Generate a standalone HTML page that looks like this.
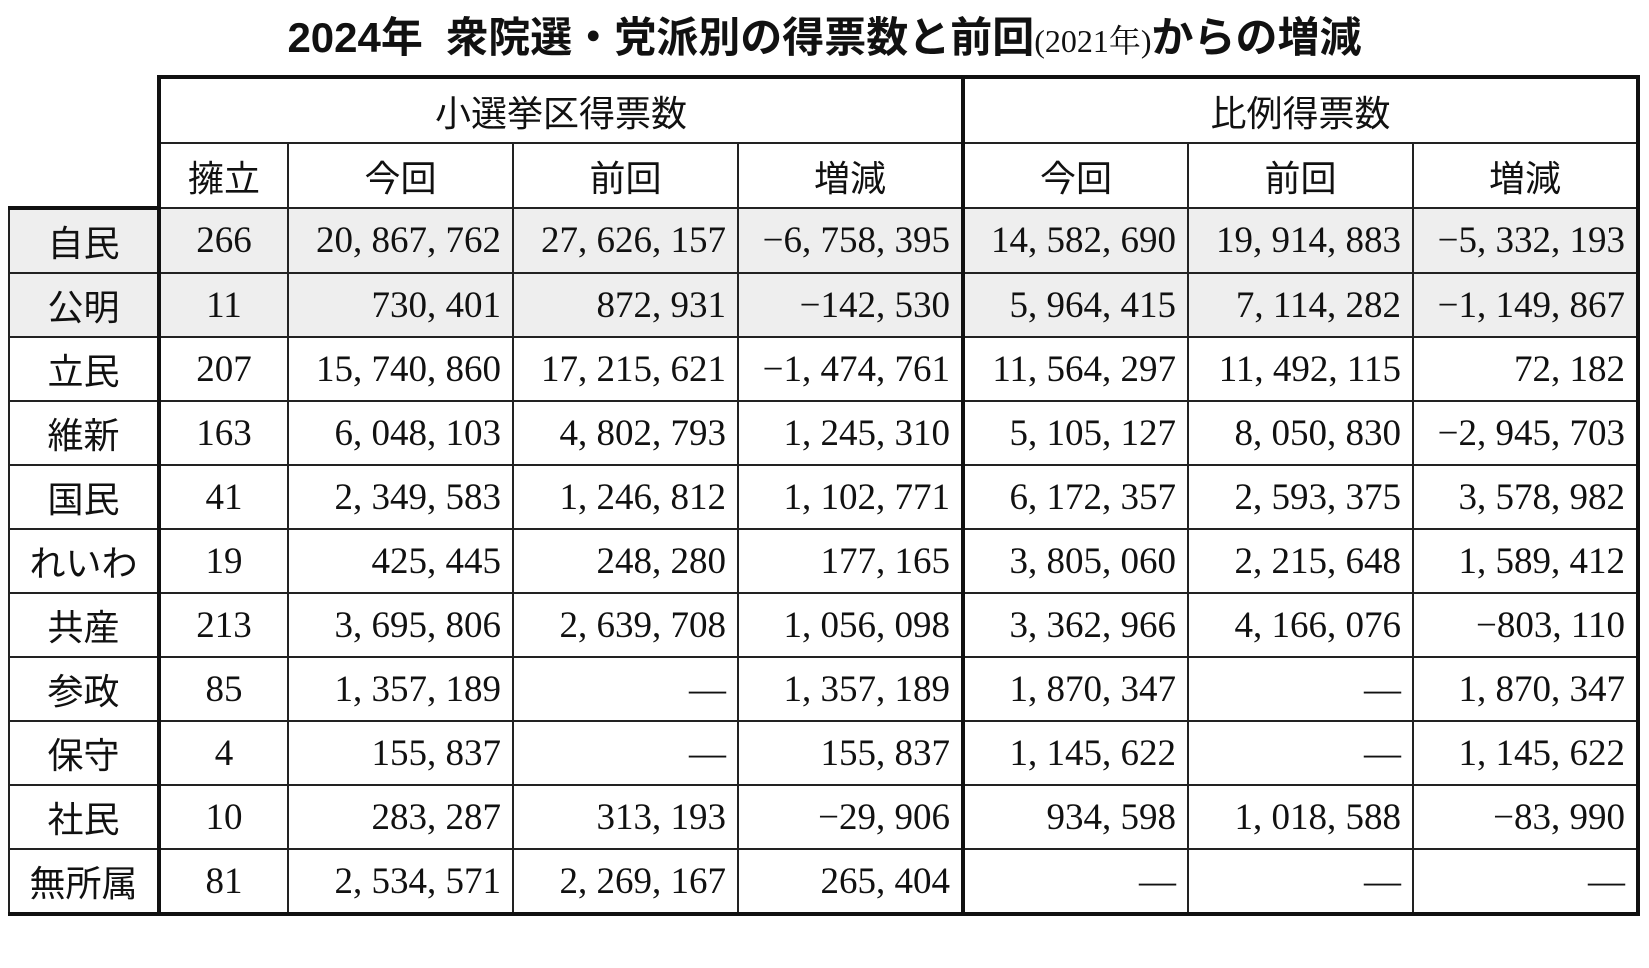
<!DOCTYPE html>
<html><head><meta charset="utf-8">
<style>
html,body{margin:0;padding:0;background:#fff;width:1649px;height:968px;overflow:hidden}
.title{position:absolute;left:0;top:12px;width:1649px;text-align:center;font-family:"Liberation Sans","Noto Sans CJK JP",sans-serif;font-size:42px;font-weight:bold;line-height:52px;color:#111}
.title small{font-family:"Liberation Serif","Noto Serif CJK SC",serif;font-size:32px;font-weight:normal}
table{position:absolute;left:8px;top:75px;border-collapse:collapse;table-layout:fixed}
td{padding:0;border:2px solid #222;color:#111}
.h{font-family:"Liberation Sans","Noto Sans CJK JP",sans-serif;font-size:36px;text-align:center;height:63px}
.l{font-family:"Liberation Sans","Noto Sans CJK JP",sans-serif;font-size:36px;text-align:center;height:62px}
.n{font-family:"Liberation Serif","Noto Serif CJK SC",serif;font-size:37px;text-align:right;padding-right:11px}
.c{text-align:center;padding-right:0}
.g td{background:#eeeeee}
.tk{border-left:4px solid #111}
.tr{border-right:4px solid #111}
.tt{border-top:4px solid #111}
.bb td{border-bottom:4px solid #111}
</style></head><body>
<div class="title">2024年&nbsp; 衆院選・党派別の得票数と前回<small>(2021年)</small>からの増減</div>
<table>
<colgroup><col style="width:150px"><col style="width:129px"><col style="width:225px"><col style="width:225px"><col style="width:225px"><col style="width:225px"><col style="width:225px"><col style="width:225px"></colgroup>
<tr><td rowspan="2" style="border:none;border-bottom:4px solid #111;background:#fff"></td><td colspan="4" class="h tk tt">小選挙区得票数</td><td colspan="3" class="h tk tt tr">比例得票数</td></tr>
<tr><td class="h tk">擁立</td><td class="h">今回</td><td class="h">前回</td><td class="h">増減</td><td class="h tk">今回</td><td class="h">前回</td><td class="h tr">増減</td></tr>
<tr class="g"><td class="l" style="border-left:2px solid #222">自民</td><td class="n c tk">266</td><td class="n">20, 867, 762</td><td class="n">27, 626, 157</td><td class="n">−6, 758, 395</td><td class="n tk">14, 582, 690</td><td class="n">19, 914, 883</td><td class="n tr">−5, 332, 193</td></tr>
<tr class="g"><td class="l">公明</td><td class="n c tk">11</td><td class="n">730, 401</td><td class="n">872, 931</td><td class="n">−142, 530</td><td class="n tk">5, 964, 415</td><td class="n">7, 114, 282</td><td class="n tr">−1, 149, 867</td></tr>
<tr><td class="l">立民</td><td class="n c tk">207</td><td class="n">15, 740, 860</td><td class="n">17, 215, 621</td><td class="n">−1, 474, 761</td><td class="n tk">11, 564, 297</td><td class="n">11, 492, 115</td><td class="n tr">72, 182</td></tr>
<tr><td class="l">維新</td><td class="n c tk">163</td><td class="n">6, 048, 103</td><td class="n">4, 802, 793</td><td class="n">1, 245, 310</td><td class="n tk">5, 105, 127</td><td class="n">8, 050, 830</td><td class="n tr">−2, 945, 703</td></tr>
<tr><td class="l">国民</td><td class="n c tk">41</td><td class="n">2, 349, 583</td><td class="n">1, 246, 812</td><td class="n">1, 102, 771</td><td class="n tk">6, 172, 357</td><td class="n">2, 593, 375</td><td class="n tr">3, 578, 982</td></tr>
<tr><td class="l">れいわ</td><td class="n c tk">19</td><td class="n">425, 445</td><td class="n">248, 280</td><td class="n">177, 165</td><td class="n tk">3, 805, 060</td><td class="n">2, 215, 648</td><td class="n tr">1, 589, 412</td></tr>
<tr><td class="l">共産</td><td class="n c tk">213</td><td class="n">3, 695, 806</td><td class="n">2, 639, 708</td><td class="n">1, 056, 098</td><td class="n tk">3, 362, 966</td><td class="n">4, 166, 076</td><td class="n tr">−803, 110</td></tr>
<tr><td class="l">参政</td><td class="n c tk">85</td><td class="n">1, 357, 189</td><td class="n">—</td><td class="n">1, 357, 189</td><td class="n tk">1, 870, 347</td><td class="n">—</td><td class="n tr">1, 870, 347</td></tr>
<tr><td class="l">保守</td><td class="n c tk">4</td><td class="n">155, 837</td><td class="n">—</td><td class="n">155, 837</td><td class="n tk">1, 145, 622</td><td class="n">—</td><td class="n tr">1, 145, 622</td></tr>
<tr><td class="l">社民</td><td class="n c tk">10</td><td class="n">283, 287</td><td class="n">313, 193</td><td class="n">−29, 906</td><td class="n tk">934, 598</td><td class="n">1, 018, 588</td><td class="n tr">−83, 990</td></tr>
<tr class="bb"><td class="l">無所属</td><td class="n c tk">81</td><td class="n">2, 534, 571</td><td class="n">2, 269, 167</td><td class="n">265, 404</td><td class="n tk">—</td><td class="n">—</td><td class="n tr">—</td></tr>
</table>
</body></html>
